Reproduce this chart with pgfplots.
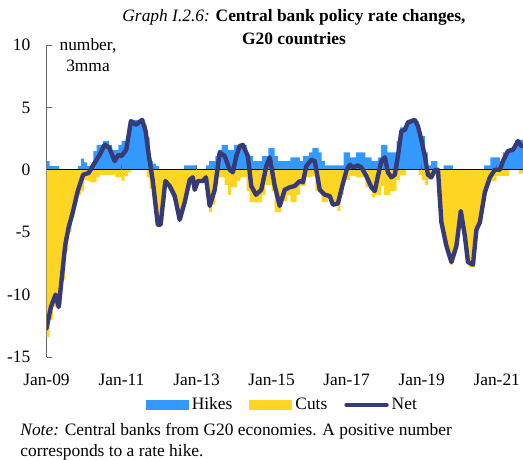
\documentclass[border=0pt]{standalone}
\usepackage{fontspec}
\setmainfont{Liberation Serif}
\usepackage{pgfplots}
\pgfplotsset{compat=1.18}

\definecolor{hikeblue}{RGB}{51,153,255}
\definecolor{cutyellow}{RGB}{255,213,36}
\definecolor{netnavy}{RGB}{54,59,120}

\begin{document}
\fontsize{8.7}{10.5}\selectfont
\begin{tikzpicture}
\begin{axis}[
    scale only axis,
    width=238.25pt, height=156pt,
    xmin=0, xmax=152.4,
    ymin=-15, ymax=10,
    axis lines*=left,
    x axis line style={draw=none},
    y axis line style={gray!80!black},
    xtick={0,24,48,72,96,120,144},
    xticklabels={Jan-09,Jan-11,Jan-13,Jan-15,Jan-17,Jan-19,Jan-21},
    xtick style={draw=none},
    xticklabel style={anchor=base, yshift=-14pt},
    ytick={-15,-10,-5,0,5,10},
    yticklabels={-15,-10,-5,0,5,10},
    ytick style={gray!80!black},
    tick align=inside,
    major tick length=2.5pt,
    yticklabel style={xshift=-5pt},
    legend columns=-1,
    legend style={at={(0.496,-0.154)}, anchor=center, draw=none, fill=none,
        inner sep=0pt, nodes={inner sep=1.5pt},
        /tikz/every even column/.append style={column sep=7pt}},
]

% hikes, monthly (value holds until the next month listed)
\addplot[const plot mark left, fill=hikeblue, draw=none,
    legend image code/.code={\fill[hikeblue] (0pt,-2.6pt) rectangle (21.5pt,2.6pt);}]
coordinates {
(0,0.7)(1,0.3)(4,0)(10,0.3)(11,0.9)(12,0.6)(13,0.3)(15,1.5)(16,2.0)(18,2.3)
(20,2.0)(21,1.6)(23,2.0)(24,2.3)(26,3.4)(27,4.0)(31,3.6)(32,2.6)(33,0.7)(34,0.5)
(35,0.3)(36,0)(44,0.35)(48,0)(51,0.35)(52,0.7)(54,1.1)(55,1.6)(56,2.0)(58,1.6)
(60,2.0)(64,1.1)(66,0.7)(69,1.1)(71,1.75)(73,1.1)(74,0.7)(78,1.0)(81,0.7)(82,1.1)
(84,1.4)(85,1.75)(87,1.4)(88,0.7)(89,0.35)(95,1.4)(97,1.0)(99,1.4)(102,1.0)(104,0.7)
(106,1.0)(107,2.0)(109,1.4)(112,2.3)(113,3.4)(115,3.9)(119,2.7)(121,1.4)(122,0.35)(123,0.7)
(125,0)(127,0.35)(130,0)(140,0.35)(142,1.0)(145,0.7)(146,1.4)(148,1.75)(150,2.4)(153,2.4)
} \closedcycle;
\addlegendentry{Hikes}

% cuts, monthly
\addplot[const plot mark left, fill=cutyellow, draw=none,
    legend image code/.code={\fill[cutyellow] (0pt,-2.6pt) rectangle (21.5pt,2.6pt);}]
coordinates {
(0,-13.4)(1,-12.0)(2,-11.0)(3,-10.5)(4,-10.8)(5,-8.8)(6,-6.5)(7,-5.0)(8,-3.8)(9,-2.6)
(10,-2.0)(11,-1.7)(12,-0.8)(13,-0.9)(14,-1.0)(16,-0.6)(17,-0.4)(22,-0.6)(24,-0.9)(25,-0.5)
(26,-0.2)(27,0)(32,-0.6)(33,-1.5)(34,-2.8)(35,-4.6)(36,-4.5)(37,-2.5)(38,-1.2)(39,-1.5)
(40,-2.2)(41,-2.8)(42,-3.6)(43,-3.0)(44,-2.3)(45,-1.5)(46,-1.2)(47,-1.5)(48,-1.0)(51,-2.0)
(52,-3.4)(53,-2.8)(54,-1.2)(55,-0.6)(57,-1.2)(58,-2.0)(59,-1.4)(61,-0.9)(62,-0.6)(64,-1.7)
(65,-2.6)(69,-2.0)(70,-1.2)(72,-1.7)(73,-3.4)(75,-2.5)(77,-2.0)(78,-2.6)(80,-2.0)(81,-1.3)
(83,-0.6)(85,-0.5)(86,-1.7)(88,-2.6)(90,-2.2)(91,-2.6)(93,-3.3)(94,-2.0)(95,-0.8)(97,-0.5)
(99,-0.6)(102,-1.4)(104,-2.2)(105,-2.0)(107,-1.3)(108,-2.0)(110,-1.7)(112,-0.8)(113,-0.4)(115,0)
(119,-0.4)(120,-0.8)(121,-1.2)(122,-0.8)(123,-0.4)(125,-0.6)(126,-4.2)(127,-5.6)(128,-6.6)(129,-7.6)
(130,-6.8)(131,-5.5)(132,-3.6)(133,-4.8)(134,-6.8)(135,-7.8)(137,-5.2)(138,-4.4)(139,-3.0)(140,-1.8)
(141,-1.2)(142,-0.9)(144,-0.5)(148,0)(151,-0.3)(153,-0.3)
} \closedcycle;
\addlegendentry{Cuts}

\draw[black, line width=0.6pt] (axis cs:0,0) -- (axis cs:152.4,0);
\pgfplotsinvokeforeach{24,48,72,96,120,144}{
    \draw[gray!80!black, line width=0.5pt] (axis cs:#1,0) -- ++(0pt,2.5pt);
}

% net, 3mma
\addplot[netnavy, line width=2.2pt, line join=round, line cap=round,
    legend image code/.code={\draw[netnavy, line width=2.2pt, line cap=round] (0pt,0pt) -- (20pt,0pt);}]
coordinates {
(0,-12.7)(1.4,-11.0)(2.9,-10.0)(3.9,-11.0)(5,-8.4)(6,-6.0)(7.1,-4.6)(8.5,-3.3)(10,-1.7)(11.7,-0.4)
(13.5,-0.25)(15,0.4)(17,1.2)(18.6,2.0)(20,1.8)(21.8,0.7)(23,1.2)(24,1.1)(25.5,1.6)(27,3.9)
(28.6,3.6)(30.6,4.0)(31.7,3.1)(32.7,1.2)(34,-0.9)(35.6,-4.4)(36.5,-4.4)(38,-0.9)(39.4,-1.3)(41,-2.1)
(42.6,-4.0)(44.2,-2.6)(45.8,-0.8)(46.8,-0.6)(47.4,-1.6)(48.4,-0.9)(50,-0.9)(51,-0.6)(52.2,-2.9)(53.8,-1.6)
(55.4,1.4)(57,1.1)(58.6,0)(59.6,-0.2)(60.7,1.1)(61.8,1.9)(62.8,2.0)(64.4,1.1)(65.5,-1.3)(67,-2.0)
(68.7,-1.6)(70.3,0.3)(71.4,1.0)(73,-1.3)(74.6,-2.9)(76.2,-1.6)(77.8,-1.4)(79.4,-1.3)(81,-0.9)(82,-1.0)
(83.1,0.3)(84.7,0.8)(85.8,0.7)(87.4,-1.6)(89,-2.0)(90.6,-2.1)(91.6,-2.8)(93.2,-2.7)(94.8,-1.1)(96,0)
(97,0.4)(98,0.2)(99.6,0.35)(100.7,0.2)(102.3,-0.5)(103.9,-1.4)(105,-1.7)(106,-0.5)(107.1,0.7)(108.2,1.0)
(109.2,-0.2)(110.3,-0.6)(111.4,-0.4)(112.4,1.1)(113.5,3.1)(114.6,3.2)(115.6,3.8)(116.7,3.9)(117.8,4.0)(118.8,3.5)
(119.9,2.4)(121,1.1)(122,-0.4)(123.1,-0.6)(124.2,0)(125.2,0)(126.3,-4.2)(127.9,-6.1)(129.5,-7.4)(131.1,-6.1)
(132.5,-3.3)(133.8,-5.3)(134.8,-7.4)(136.4,-7.6)(137.5,-4.8)(138.6,-4.2)(140.2,-1.8)(141.8,-0.6)(143.4,0)(145,0)
(146,0.7)(147.6,1.5)(149.2,1.6)(150.8,2.3)(151.9,1.9)
};
\addlegendentry{Net}

\end{axis}

\node[align=center, anchor=north] at (123.75pt,177pt)
    {\textit{Graph I.2.6:} \textbf{Central bank policy rate changes,}\\[1pt] \textbf{G20 countries}};
\node[align=center, anchor=north, inner sep=0pt] at (20.75pt,159.5pt) {number,\\3mma};
\node[align=left, anchor=north west, inner sep=0pt] at (-13.25pt,-33pt)
    {\textit{Note:} Central banks from G20 economies. A positive number\\corresponds to a rate hike.};

\pgfresetboundingbox
\path[use as bounding box] (-23.25pt,-51pt) rectangle (238.25pt,178.5pt);
\end{tikzpicture}
\end{document}
